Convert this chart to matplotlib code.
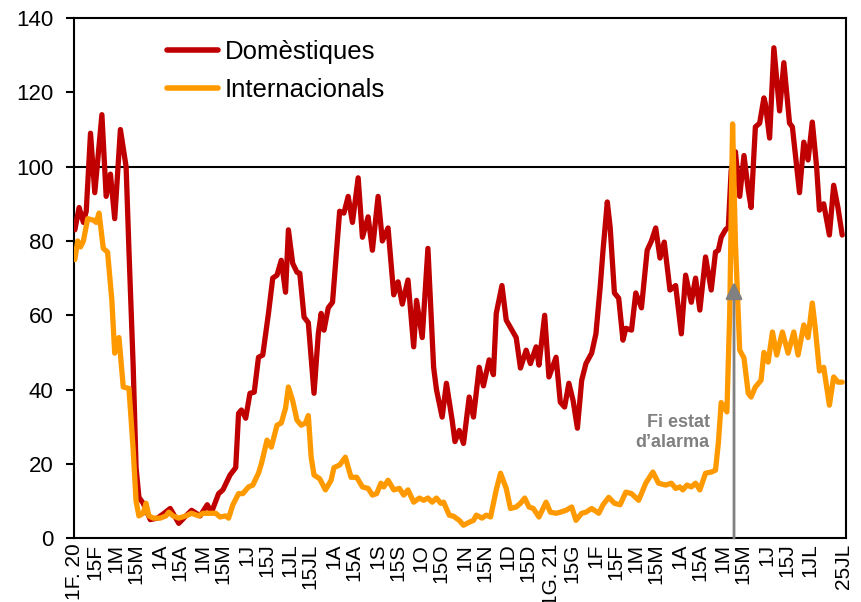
import matplotlib
matplotlib.use("Agg")
import matplotlib.pyplot as plt
import pandas as pd

plt.rcParams['font.family'] = ['Liberation Sans', 'DejaVu Sans']

start = pd.Timestamp("2020-02-01")

# days since 1 Feb 2020
dom_days = [0, 3, 6, 8, 11, 14, 19, 22, 25, 28, 32, 36, 38, 41, 43, 45, 48, 53, 58, 62, 67, 73, 78, 82, 88,
            93, 96, 101, 104, 109, 113, 115, 117, 120, 123, 126, 129, 132, 136, 139, 142, 145, 148, 150, 153,
            156, 158, 161, 164, 168, 171, 173, 175, 178, 181, 186, 189, 192, 195, 199, 202, 206, 209, 213, 216,
            220, 224, 227, 230, 234, 238, 240, 244, 248, 252, 254, 258, 261, 265, 267, 270, 273, 277, 280, 284,
            287, 291, 294, 296, 300, 303, 307, 310, 313, 317, 320, 324, 326, 330, 333, 338, 341, 344, 347, 350,
            353, 356, 359, 363, 366, 369, 371, 374, 376, 379, 382, 385, 387, 391, 394, 398, 402, 405, 408, 411,
            414, 418, 422, 426, 429, 433, 436, 439, 443, 447, 450, 452, 454, 457, 459, 461, 464, 467, 470, 473,
            475, 478, 481, 484, 485, 488, 491, 495, 498, 502, 504, 509, 512, 515, 518, 521, 523, 526, 530, 533,
            536, 539]
dom_vals = [83, 89, 85, 88, 109, 93, 114, 92, 98, 86, 110, 100, 77.5, 46, 19, 11, 9.4, 5, 5.4, 6.5, 8, 4, 6, 7.5, 6,
            9, 7, 12, 13, 17, 19, 33.6, 34.5, 32.3, 39, 39.3, 48.7, 49.3, 60.5, 70, 70.8, 74.8, 66.2, 83, 74,
            71.6, 71.3, 59.5, 58, 39, 55, 60.5, 56, 62, 63.5, 88, 87.5, 92, 85, 97, 81, 86.5, 77.5, 92, 80,
            83.5, 65.5, 69, 63, 69.5, 51.5, 64, 54, 78, 46, 40, 32.6, 41.7, 31.8, 26, 29, 25.5, 38, 32.6, 46,
            41, 48, 44, 60.5, 68, 58.7, 56, 54, 45.8, 50.6, 47, 51.5, 46.6, 60, 43.4, 48.7, 36.6, 35.3, 41.7, 37,
            29.6, 42.5, 47, 49.8, 55, 67.6, 77.5, 90.5, 83.7, 66, 64.6, 53.3, 56.5, 56, 66, 62, 77.5, 80, 83.5, 75.4,
            79.7, 66.8, 68, 55, 70.8, 63.5, 70, 61.4, 75.7, 66.8, 77, 77.5, 81, 83, 83.7, 99, 104, 92, 103, 93.7,
            89, 110.7, 111.7, 118.5, 117, 107.7, 132, 115, 128, 111.7, 110.7, 93, 106.6, 101.8, 112, 100, 88.3, 90, 81.6, 95,
            89, 81.6]

int_days = [0, 2, 4, 6, 9, 13, 15, 17, 20, 23, 26, 28, 31, 34, 38, 41, 43, 45, 48, 50, 52, 55, 60, 64, 66, 69,
            73, 78, 82, 87, 90, 95, 99, 102, 106, 108, 111, 115, 118, 122, 125, 129, 131, 135, 138, 142, 145,
            148, 150, 153, 156, 159, 162, 164, 166, 168, 172, 176, 180, 182, 186, 190, 194, 198, 202, 206, 209,
            212, 215, 217, 220, 224, 228, 231, 234, 238, 242, 245, 248, 251, 254, 257, 259, 263, 266, 270, 273,
            277, 280, 282, 286, 289, 292, 296, 299, 303, 306, 310, 313, 316, 319, 322, 326, 331, 334, 338, 341,
            345, 349, 352, 356, 359, 363, 368, 371, 375, 379, 383, 387, 391, 396, 398, 401, 406, 410, 415, 419,
            422, 425, 427, 430, 433, 436, 439, 443, 447, 450, 452, 454, 458, 460, 462, 464, 467, 470, 473, 475,
            478, 482, 484, 487, 490, 493, 497, 501, 505, 508, 512, 515, 518, 520, 523, 526, 530, 533, 536, 539]
int_vals = [75, 80, 78.4, 80, 86, 85.6, 85, 87.5, 78, 77, 64, 49.8, 54, 40.7, 40.3, 23.7, 10, 6, 6.7, 9.4, 6, 5.4, 5.4, 6, 7, 6,
            5.4, 6, 6.7, 6, 6.7, 6.7, 6.7, 5.7, 6, 5.4, 9, 12, 12, 13.8, 14.3, 17.5, 20, 26.4, 24.5, 30.4, 31,
            35, 40.7, 37, 31.8, 30.4, 31, 33, 21.8, 17, 16, 13, 15.6, 19, 19.7, 21.8, 16.4, 16.4, 13.8, 13.4, 11.6,
            12, 14.8, 13.8, 15.6, 13, 13.4, 11.6, 13, 9.7, 10.8, 10.2, 10.8, 9.7, 10.8, 9.4, 9.7, 6.2, 5.9, 4.8, 3.5,
            4.3, 4.8, 6.2, 5.4, 6.2, 5.7, 13, 17.5, 13.4, 8, 8.4, 9.4, 10.8, 8.4, 8, 5.7, 9.7, 7, 6.7, 7,
            7.5, 8.4, 4.8, 6.7, 7, 8, 6.7, 9, 11, 9.4, 9, 12.4, 12, 10.2, 12, 14.8, 17.8, 14.8, 14.3, 14.8,
            13.4, 13.8, 13, 14.3, 13.8, 14.8, 13, 17.5, 17.8, 18.3, 25.6, 36.5, 34, 61, 111.5, 79.4, 50.6, 48.5, 39, 38,
            40.7, 42.5, 50, 47.4, 55.5, 49.3, 55.5, 49.8, 55.5, 49.3, 57.4, 54, 63.3, 56.8, 45, 46, 35.8, 43.4, 42, 42]

tick_dates = ["2020-02-01", "2020-02-15", "2020-03-01", "2020-03-15", "2020-04-01", "2020-04-15",
              "2020-05-01", "2020-05-15", "2020-06-01", "2020-06-15", "2020-07-01", "2020-07-15",
              "2020-08-01", "2020-08-15", "2020-09-01", "2020-09-15", "2020-10-01", "2020-10-15",
              "2020-11-01", "2020-11-15", "2020-12-01", "2020-12-15", "2021-01-01", "2021-01-15",
              "2021-02-01", "2021-02-15", "2021-03-01", "2021-03-15", "2021-04-01", "2021-04-15",
              "2021-05-01", "2021-05-15", "2021-06-01", "2021-06-15", "2021-07-01", "2021-07-25"]
tick_labels = ["1F. 20", "15F", "1M", "15M", "1A", "15A", "1M", "15M", "1J", "15J", "1JL", "15JL",
               "1A", "15A", "1S", "15S", "1O", "15O", "1N", "15N", "1D", "15D", "1G. 21", "15G",
               "1F", "15F", "1M", "15M", "1A", "15A", "1M", "15M", "1J", "15J", "1JL", "25JL"]

alarm_end = pd.Timestamp("2021-05-09")

dom_x = start + pd.to_timedelta(dom_days, unit="D")
int_x = start + pd.to_timedelta(int_days, unit="D")

fig = plt.figure(figsize=(8.62, 6.02), dpi=100)
ax = fig.add_axes([0.086, 0.106, 0.896, 0.864])

ax.plot(dom_x, dom_vals, color="#C00000", lw=3.8, solid_joinstyle="round", solid_capstyle="round",
        label="Domèstiques", zorder=3)
ax.plot(int_x, int_vals, color="#FF9900", lw=3.8, solid_joinstyle="round", solid_capstyle="round",
        label="Internacionals", zorder=4)
ax.axhline(100, color="black", lw=1.5, zorder=2)

# end of state of alarm
ax.annotate("", xy=(alarm_end, 69), xytext=(alarm_end, 0),
            arrowprops=dict(arrowstyle="-|>", color="#808080", lw=2, mutation_scale=25, shrinkA=0, shrinkB=0),
            zorder=5)
ax.text(pd.Timestamp("2021-04-22"), 28.5, "Fi estat\nd’alarma", ha="right", va="center",
        fontsize=13, fontweight="bold", color="#808080", linespacing=1.2)

ax.set_ylim(0, 140)
ax.set_yticks(range(0, 141, 20))
ax.set_xlim(start - pd.Timedelta(days=0.5), pd.Timestamp("2021-07-27"))
ax.set_xticks(pd.to_datetime(tick_dates))
ax.set_xticklabels(tick_labels, rotation=90)
ax.tick_params(axis="y", labelsize=16, length=6, width=1.5, pad=9)
ax.tick_params(axis="x", labelsize=15, length=0, pad=4)
for s in ax.spines.values():
    s.set_linewidth(1.5)

leg = ax.legend(loc="upper left", bbox_to_anchor=(0.12, 0.958), frameon=False, fontsize=18.5,
                handlelength=2.0, handletextpad=0.25, labelspacing=0.55, borderpad=0, borderaxespad=0)
for h in leg.get_lines():
    h.set_linewidth(4)

fig.savefig("out.png", dpi=100)
